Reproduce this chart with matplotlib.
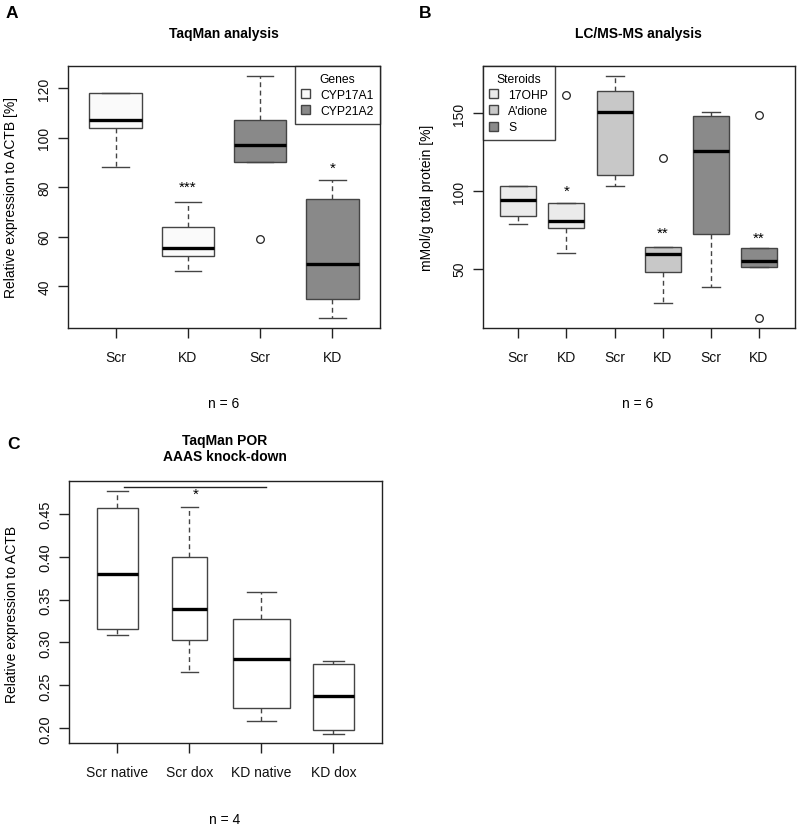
import matplotlib
matplotlib.use("Agg")
import matplotlib.pyplot as plt
from matplotlib.patches import Patch

plt.rcParams['font.family'] = ['Liberation Sans', 'DejaVu Sans']

# ---------------- data ----------------
# Panel A: TaqMan analysis (Relative expression to ACTB [%])
a_labels = ["Scr", "KD", "Scr", "KD"]
a_genes = ["CYP17A1", "CYP17A1", "CYP21A2", "CYP21A2"]
a_whislo = [88, 46, 90, 27]
a_q1 = [104, 52, 90, 35]
a_med = [107, 55.5, 97, 49]
a_q3 = [118, 64, 107, 75]
a_whishi = [118, 74, 125, 83]
a_fliers = [[], [], [59], []]
a_stars = ["", "***", "", "*"]
a_star_y = [None, 80, None, 88]

# Panel B: LC/MS-MS analysis (mMol/g total protein [%])
b_labels = ["Scr", "KD", "Scr", "KD", "Scr", "KD"]
b_steroid = ["17OHP", "17OHP", "A'dione", "A'dione", "S", "S"]
b_whislo = [79, 60, 103.4, 28, 38, 51]
b_q1 = [84, 76, 110, 48, 72.5, 51]
b_med = [94, 80.7, 151, 59.5, 126, 55]
b_q3 = [103, 92, 164, 64, 148, 63]
b_whishi = [103, 92, 174, 64, 151, 63]
b_fliers = [[], [162], [], [121], [], [149, 18]]
b_stars = ["", "*", "", "**", "", "**"]
b_star_y = [None, 100, None, 72.8, None, 69.8]

# Panel C: TaqMan POR, AAAS knock-down (Relative expression to ACTB)
c_labels = ["Scr native", "Scr dox", "KD native", "KD dox"]
c_whislo = [0.3086, 0.2662, 0.2091, 0.1931]
c_q1 = [0.3152, 0.3031, 0.2231, 0.1986]
c_med = [0.380, 0.3396, 0.2806, 0.2378]
c_q3 = [0.457, 0.3991, 0.3276, 0.2744]
c_whishi = [0.4764, 0.4582, 0.3583, 0.2779]
c_sig_from, c_sig_to, c_sig_y, c_sig_label = 1.09, 3.06, 0.481, "*"

# ---------------- style ----------------
W, H = 800, 829
gene_colors = {"CYP17A1": "#FAFAFA", "CYP21A2": "#898989"}
steroid_colors = {"17OHP": "#EBEBEB", "A'dione": "#C8C8C8", "S": "#8A8A8A"}
EDGE = "#444444"

fig = plt.figure(figsize=(W / 100, H / 100), dpi=100)


def px_axes(x0, y0, x1, y1):
    return fig.add_axes([x0 / W, 1 - y1 / H, (x1 - x0) / W, (y1 - y0) / H])


def ftext(x, y, s, **kw):
    fig.text(x / W, 1 - y / H, s, ha='center', va='center', **kw)


def draw_boxes(ax, whislo, q1, med, q3, whishi, fliers, colors, widths):
    stats = []
    for i in range(len(med)):
        stats.append(dict(whislo=whislo[i], q1=q1[i], med=med[i], q3=q3[i],
                          whishi=whishi[i], fliers=fliers[i] if fliers else []))
    pos = list(range(1, len(med) + 1))
    bp = ax.bxp(stats, positions=pos, widths=widths, capwidths=[w * 0.5 for w in widths],
                patch_artist=True, manage_ticks=False,
                boxprops=dict(edgecolor=EDGE, linewidth=1.0),
                whiskerprops=dict(color=EDGE, linewidth=1.0, linestyle=(0, (3.5, 2.5))),
                capprops=dict(color=EDGE, linewidth=1.0),
                medianprops=dict(color='black', linewidth=2.4, solid_capstyle='butt'),
                flierprops=dict(marker='o', markerfacecolor='none', markeredgecolor='#222222',
                                markersize=5.5, markeredgewidth=0.9))
    for patch, c in zip(bp['boxes'], colors):
        patch.set_facecolor(c)
    ax.set_xticks(pos)
    return pos


def style_axes(ax, labels, ysize=10):
    ax.set_xticklabels(labels, fontsize=10)
    ax.tick_params(axis='x', length=7, width=1.0, pad=9, colors='#222222', labelcolor='#111111')
    ax.tick_params(axis='y', length=7, width=1.0, pad=5, colors='#222222', labelcolor='#111111',
                   labelsize=ysize, labelrotation=90)
    for lab in ax.get_yticklabels():
        lab.set_va('center')
    for s in ax.spines.values():
        s.set_linewidth(1.0)
        s.set_color('#222222')


def make_legend(ax, handles, title, loc, anchor):
    leg = ax.legend(handles=handles, title=title, loc=loc, bbox_to_anchor=anchor,
                    borderaxespad=0, fontsize=8.7, title_fontsize=8.7, fancybox=False,
                    frameon=True, handlelength=0.75, handleheight=0.75, handletextpad=0.8,
                    labelspacing=0.35, borderpad=0.55)
    leg.get_frame().set_edgecolor('#111111')
    leg.get_frame().set_linewidth(1.0)
    return leg


# ---------------- Panel A ----------------
axA = px_axes(68, 67, 380, 329)
draw_boxes(axA, a_whislo, a_q1, a_med, a_q3, a_whishi, a_fliers,
           [gene_colors[g] for g in a_genes], [0.73] * 4)
axA.set_xlim(0.34, 4.66)
axA.set_ylim(23.1, 128.9)
axA.set_yticks([40, 60, 80, 100, 120])
style_axes(axA, a_labels)
for i, (s, y) in enumerate(zip(a_stars, a_star_y)):
    if s:
        axA.text(i + 1, y, s, ha='center', va='center', fontsize=11)
make_legend(axA, [Patch(facecolor=gene_colors[g], edgecolor=EDGE, label=g)
                  for g in ["CYP17A1", "CYP21A2"]], "Genes", 'upper right', (1, 1))
ftext(11, 198, "Relative expression to ACTB [%]", fontsize=10, rotation=90)
ftext(224, 34, "TaqMan analysis", fontsize=10, fontweight='bold')
ftext(224, 404, "n = 6", fontsize=10)
ftext(12, 13, "A", fontsize=12.5, fontweight='bold')

# ---------------- Panel B ----------------
axB = px_axes(482.7, 67, 795, 329)
draw_boxes(axB, b_whislo, b_q1, b_med, b_q3, b_whishi, b_fliers,
           [steroid_colors[s] for s in b_steroid], [0.75] * 6)
axB.set_xlim(0.26, 6.75)
axB.set_ylim(11.8, 180.4)
axB.set_yticks([50, 100, 150])
style_axes(axB, b_labels)
for i, (s, y) in enumerate(zip(b_stars, b_star_y)):
    if s:
        axB.text(i + 1, y, s, ha='center', va='center', fontsize=11)
make_legend(axB, [Patch(facecolor=steroid_colors[s], edgecolor=EDGE, label=s)
                  for s in ["17OHP", "A'dione", "S"]], "Steroids", 'upper left', (0, 1))
ftext(427, 198, "mMol/g total protein [%]", fontsize=10, rotation=90)
ftext(638, 34, "LC/MS-MS analysis", fontsize=10, fontweight='bold')
ftext(638, 404, "n = 6", fontsize=10)
ftext(425, 13, "B", fontsize=12.5, fontweight='bold')

# ---------------- Panel C ----------------
axC = px_axes(69.3, 481.7, 381.7, 744)
draw_boxes(axC, c_whislo, c_q1, c_med, c_q3, c_whishi, None,
           ["white"] * 4, [0.565, 0.49, 0.80, 0.574])
axC.set_xlim(0.333, 4.67)
axC.set_ylim(0.1829, 0.4885)
axC.set_yticks([0.20, 0.25, 0.30, 0.35, 0.40, 0.45])
axC.set_yticklabels(["0.20", "0.25", "0.30", "0.35", "0.40", "0.45"])
style_axes(axC, c_labels, ysize=10.5)
axC.plot([c_sig_from, c_sig_to], [c_sig_y, c_sig_y], color='#222222', linewidth=1.0)
axC.text(2.09, 0.4733, c_sig_label, ha='center', va='center', fontsize=11)
ftext(12, 614, "Relative expression to ACTB", fontsize=10, rotation=90)
ftext(225, 441, "TaqMan POR", fontsize=10, fontweight='bold')
ftext(225, 457, "AAAS knock-down", fontsize=10, fontweight='bold')
ftext(225, 820, "n = 4", fontsize=10)
ftext(13, 445, "C", fontsize=12.5, fontweight='bold')

fig.savefig("out.png", dpi=100)
